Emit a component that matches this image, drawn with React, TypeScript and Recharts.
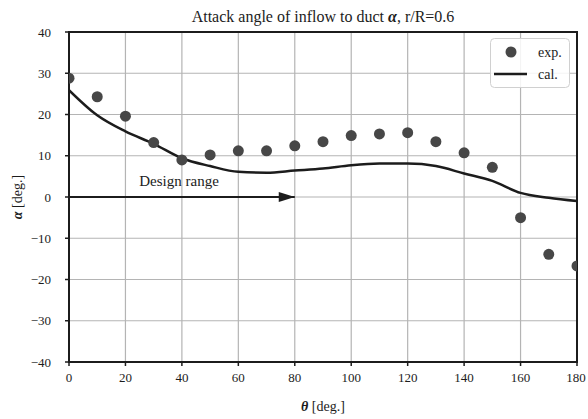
import React from 'react';
import {
  ComposedChart,
  Line,
  Scatter,
  XAxis,
  YAxis,
  CartesianGrid,
  ReferenceArea,
  ReferenceDot,
} from 'recharts';

// Circumferential position of the measurement / calculation points [deg.]
const thetaExp = [0, 10, 20, 30, 40, 50, 60, 70, 80, 90, 100, 110, 120, 130, 140, 150, 160, 170, 180];
// Measured attack angle [deg.]
const alphaExp = [28.8, 24.3, 19.6, 13.2, 9.0, 10.2, 11.2, 11.2, 12.4, 13.4, 14.9, 15.3, 15.6, 13.4, 10.7, 7.2, -5.0, -13.9, -16.7];

const thetaCal = [0, 10, 20, 30, 40, 50, 60, 70, 80, 90, 100, 110, 120, 130, 140, 150, 160, 170, 180];
// Calculated attack angle [deg.]
const alphaCal = [25.9, 19.8, 15.9, 12.9, 9.4, 7.5, 6.1, 5.9, 6.4, 6.9, 7.7, 8.1, 8.1, 7.5, 5.7, 3.9, 1.0, -0.2, -1.0];

// Design range arrow, from start to end angle at alpha = 0
const designTheta = [0, 80];
const designAlpha = [0, 0];

const xTicks = [0, 20, 40, 60, 80, 100, 120, 140, 160, 180];
const yTicks = [-40, -30, -20, -10, 0, 10, 20, 30, 40];

const expData = thetaExp.map((t, i) => ({ theta: t, alpha: alphaExp[i] }));
const calData = thetaCal.map((t, i) => ({ theta: t, alpha: alphaCal[i] }));
const designData = designTheta.map((t, i) => ({ theta: t, alpha: designAlpha[i] }));

const FONT = '"Liberation Serif", "Times New Roman", serif';
const INK = '#1c1c1c';

// typographic minus sign on negative tick values
const fmtTick = (v: number) => String(v).replace('-', '\u2212');

const XTick = (p: any) => (
  <text x={p.x} y={p.y + 14} textAnchor="middle" fontFamily={FONT} fontSize={13} fill={INK}>
    {fmtTick(p.payload.value)}
  </text>
);

const YTick = (p: any) => (
  <text x={p.x - 12} y={p.y} textAnchor="end" dominantBaseline="central" fontFamily={FONT} fontSize={13} fill={INK}>
    {fmtTick(p.payload.value)}
  </text>
);

const ExpDot = (p: any) => (
  <circle cx={p.cx} cy={p.cy} r={5.5} fill="#474747" clipPath="url(#plot-clip)" />
);

const ArrowHead = (p: any) => {
  if (p.index !== designData.length - 1) return <g key={p.index} />;
  const { cx, cy } = p;
  return (
    <polygon
      key={p.index}
      points={`${cx},${cy} ${cx - 16},${cy - 5} ${cx - 16},${cy + 5}`}
      fill={INK}
    />
  );
};

const DesignText = (p: any) => (
  <text x={p.cx} y={p.cy} textAnchor="middle" dominantBaseline="central" fontFamily={FONT} fontSize={15} fill={INK}>
    Design range
  </text>
);

export default function App() {
  return (
    <div
      style={{ position: 'absolute', left: 0, top: 0, width: 588, height: 419, background: '#fff', fontFamily: FONT }}
    >
      <svg width={0} height={0} style={{ position: 'absolute' }}>
        <defs>
          <clipPath id="plot-clip" clipPathUnits="userSpaceOnUse">
            <rect x={69} y={32} width={508} height={330} />
          </clipPath>
        </defs>
      </svg>
      <ComposedChart
        width={588}
        height={419}
        margin={{ top: 32, right: 11, bottom: 0, left: 0 }}
      >
        <CartesianGrid stroke="#b4b4b4" strokeWidth={1.2} />
        <XAxis
          type="number"
          dataKey="theta"
          domain={[0, 180]}
          ticks={xTicks}
          allowDataOverflow
          height={57}
          axisLine={false}
          tickLine={{ stroke: INK, strokeWidth: 1.5 }}
          tickSize={4}
          tick={XTick}
        />
        <YAxis
          type="number"
          dataKey="alpha"
          domain={[-40, 40]}
          ticks={yTicks}
          allowDataOverflow
          width={69}
          axisLine={false}
          tickLine={{ stroke: INK, strokeWidth: 1.5 }}
          tickSize={4}
          tick={YTick}
        />
        <Line
          data={calData}
          dataKey="alpha"
          type="monotone"
          stroke={INK}
          strokeWidth={2.5}
          dot={false}
          isAnimationActive={false}
        />
        <Scatter data={expData} dataKey="alpha" shape={ExpDot} isAnimationActive={false} />
        <Line
          data={designData}
          dataKey="alpha"
          type="linear"
          stroke={INK}
          strokeWidth={2}
          dot={ArrowHead}
          isAnimationActive={false}
        />
        <ReferenceDot x={39} y={4} shape={DesignText} />
        <ReferenceArea x1={0} x2={180} y1={-40} y2={40} fill="none" stroke={INK} strokeWidth={2} />
      </ComposedChart>
      <svg
        width={588}
        height={419}
        style={{ position: 'absolute', left: 0, top: 0, pointerEvents: 'none' }}
      >
        <text x={323} y={16} textAnchor="middle" dominantBaseline="central" fontFamily={FONT} fontSize={16} fill={INK}>
          Attack angle of inflow to duct <tspan fontStyle="italic" fontWeight="bold">α</tspan>, r/R=0.6
        </text>
        <text x={323} y={406} textAnchor="middle" dominantBaseline="central" fontFamily={FONT} fontSize={14} fill={INK}>
          <tspan fontStyle="italic" fontWeight="bold">θ</tspan> [deg.]
        </text>
        <text
          x={17}
          y={197}
          textAnchor="middle"
          dominantBaseline="central"
          fontFamily={FONT}
          fontSize={14}
          fill={INK}
          transform="rotate(-90 17 197)"
        >
          <tspan fontStyle="italic" fontWeight="bold">α</tspan> [deg.]
        </text>
        {/* legend */}
        <g>
          <rect x={490.5} y={38.5} width={79} height={49} rx={4} fill="#ffffff" fillOpacity={0.85} stroke="#d0d0d0" />
          <circle cx={511} cy={52} r={5.5} fill="#474747" />
          <line x1={494} x2={527} y1={74} y2={74} stroke={INK} strokeWidth={2.5} />
          <text x={538} y={52} dominantBaseline="central" fontFamily={FONT} fontSize={14} fill={INK}>exp.</text>
          <text x={538} y={74} dominantBaseline="central" fontFamily={FONT} fontSize={14} fill={INK}>cal.</text>
        </g>
      </svg>
    </div>
  );
}
